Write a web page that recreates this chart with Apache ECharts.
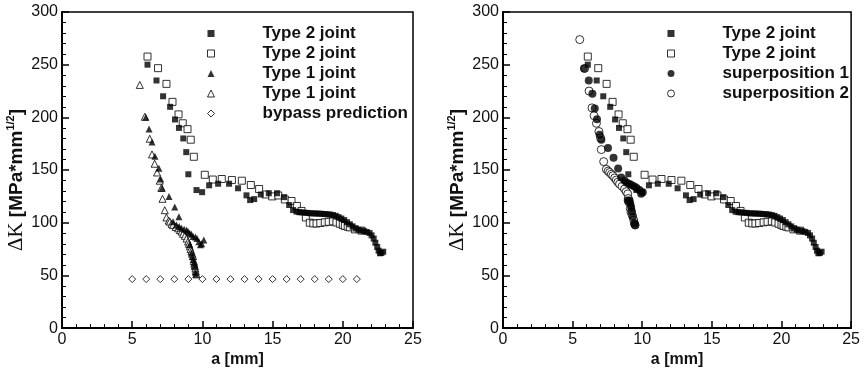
<!DOCTYPE html>
<html><head><meta charset="utf-8">
<script src="https://cdn.jsdelivr.net/npm/echarts/dist/echarts.min.js"></script>
<style>html,body{margin:0;padding:0;background:#fff}#c{width:863px;height:373px}</style>
</head><body><div id="c"></div>
<script>
// ---- data (x = a [mm], y = ΔK) ----
const type2Filled = [[6.09,250],[6.73,235],[7.20,220],[7.70,210],[8.05,198],[8.33,190],[8.64,180],[8.85,167],[9.0,146],[9.58,131],[9.98,129],[10.48,135.5],[11.12,137],[11.9,137],[12.54,132.7],[13.14,126],[13.4,121.5],[13.69,122.4],[14.16,126.8],[14.73,128],[15.32,128],[15.82,124.3],[16.18,116.8],[16.46,112],[16.7,110.5],[16.9,110],[17.1,109.8],[17.3,109.5],[17.5,109.3],[17.7,109],[17.9,108.8],[18.1,108.8],[18.3,108.6],[18.5,108.5],[18.7,108.3],[18.9,108],[19.1,107.8],[19.3,107.3],[19.5,106.5],[19.7,105.3],[19.9,104],[20.1,102.5],[20.3,100.5],[20.5,98.5],[20.7,96.5],[20.9,94.5],[21.1,93.3],[21.3,92.6],[21.5,92],[21.7,91.3],[21.9,90.3],[22.05,88],[22.2,85],[22.32,81],[22.45,77],[22.55,73.5],[22.65,71],[22.75,71.3],[22.88,72.5]];
const type2Open = [[6.09,257.7],[6.84,246.7],[7.44,231.8],[7.87,214.7],[8.3,202.8],[8.6,194.4],[8.94,188.8],[9.17,178.8],[9.39,162.6],[10.17,145.5],[10.74,141],[11.38,141.5],[12.1,140.5],[12.81,139.9],[13.45,135.8],[14.04,132],[14.5,126.8],[14.97,125],[15.4,125.9],[15.87,122.1],[16.35,120.6],[16.73,115.9],[17.06,111.2],[17.37,105],[17.65,100],[17.9,99.3],[18.13,99.3],[18.4,99.8],[18.72,100.4],[19.0,100.9],[19.31,101.3],[19.55,100.2],[19.79,99.0],[20.0,97.8],[20.15,96.9],[20.35,96.2],[20.5,95.6],[20.86,93.7],[21.34,92.5]];
const type1Filled = [[5.97,200],[6.2,189],[6.41,176.6],[6.62,163],[6.9,151.7],[7.03,141.4],[7.13,133],[7.62,125],[8.03,115],[8.33,105.6],[7.91,101],[8.15,97.8],[8.35,96.5],[8.51,94.7],[8.7,93.8],[8.87,93.2],[8.98,91.6],[9.1,90],[9.22,89],[9.34,87],[9.5,86.5],[9.62,85],[9.75,82],[9.86,79],[9.95,80],[10.1,83.5],[9.1,79],[9.22,71.3],[9.29,68],[9.34,65],[9.41,62],[9.46,58.9],[9.51,53],[9.53,51]];
const type1Open = [[5.54,230.8],[5.9,200.6],[6.25,179.7],[6.41,164.8],[6.6,156],[6.77,147.7],[6.96,139.9],[7.08,133],[7.16,122.7],[7.32,111.9],[7.44,105],[7.6,102],[7.68,101],[7.8,99],[7.91,97.8],[8.1,96],[8.27,94.7],[8.4,93],[8.51,91.6],[8.62,89.5],[8.75,87.6],[8.87,85],[8.98,82.2],[9.04,80],[9.1,77.6],[9.16,75],[9.22,72.9],[9.28,70.5],[9.34,68.2],[9.39,63.6],[9.43,61],[9.46,58.9],[9.5,56.5],[9.53,54.2],[9.58,51]];
const bypassX = [5,6,7,8,9,10,11,12,13,14,15,16,17,18,19,20,21];
const bypassY = [46.5,46.5,46.5,46.5,46.5,46.5,46.5,46.5,46.5,46.5,46.5,46.5,46.5,46.5,46.5,46.5,46.5];
const superpos1 = [[5.82,246.4],[6.16,234.9],[6.42,222.4],[6.59,208.4],[6.75,198.1],[6.94,183.5],[7.06,178.8],[7.54,171],[7.94,161.7],[8.27,151.5],[8.49,143],[8.73,139.9],[8.9,138],[9.09,136.7],[9.25,135.5],[9.44,134.3],[9.6,133],[9.8,131.1],[10.04,129],[9.92,127.4],[8.96,121],[9.09,121.2],[9.14,118],[9.2,115],[9.25,111],[9.32,105.6],[9.44,99.3],[9.49,97.8]];
const superpos2 = [[5.51,273.8],[5.87,246.4],[6.18,225],[6.39,209],[6.54,201.6],[6.71,194.4],[6.89,186.6],[7.01,180.4],[7.06,169.4],[7.23,158],[7.42,150.7],[7.55,149],[7.66,147.7],[7.78,146],[7.89,144.6],[8.02,142.5],[8.14,140.5],[8.25,138.5],[8.37,136.7],[8.55,134.5],[8.73,132],[8.85,129.5],[8.96,127.4],[9.0,123],[9.04,119.6],[9.14,113.4],[9.2,110],[9.28,107.2],[9.39,102.5],[9.44,99.3],[9.49,97.8]];
const xTickLabels = ['0','5','10','15','20','25'];
const yTickLabels = ['0','50','100','150','200','250','300'];
const legendLeft = ['Type 2 joint','Type 2 joint','Type 1 joint','Type 1 joint','bypass prediction'];
const legendRight = ['Type 2 joint','Type 2 joint','superposition 1','superposition 2'];

const FONT = 'Liberation Sans';
const bypass = bypassX.map((x,i)=>[x,bypassY[i]]);

function xAx(gi){return {type:'value',gridIndex:gi,min:0,max:25,interval:5,
  axisLine:{onZero:false,lineStyle:{color:'#000',width:2}},
  axisTick:{inside:true,length:7,lineStyle:{color:'#000',width:1.5}},
  minorTick:{show:true,splitNumber:5,length:4,lineStyle:{color:'#000',width:1}},
  splitLine:{show:false},
  axisLabel:{color:'#111',fontSize:16,fontFamily:FONT,margin:3,formatter:v=>xTickLabels[Math.round(v/5)]},
  name:'a [mm]',nameLocation:'middle',nameGap:23,
  nameTextStyle:{fontWeight:'bold',fontSize:16,color:'#111',fontFamily:FONT}};}
function yAx(gi){return {type:'value',gridIndex:gi,min:0,max:300,interval:50,
  axisLine:{onZero:false,lineStyle:{color:'#000',width:2}},
  axisTick:{inside:true,length:7,lineStyle:{color:'#000',width:1.5}},
  minorTick:{show:true,splitNumber:5,length:4,lineStyle:{color:'#000',width:1}},
  splitLine:{show:false},
  axisLabel:{color:'#111',fontSize:16,fontFamily:FONT,margin:4,formatter:v=>yTickLabels[Math.round(v/50)]},
  name:'{d|ΔK} {b|[MPa*mm}{s|1/2}{b|]}',nameLocation:'middle',nameGap:30,nameRotate:90,
  nameTextStyle:{color:'#111',fontSize:19,padding:[0,20,0,0],
    rich:{d:{fontFamily:'Liberation Serif',fontSize:21,color:'#111',lineHeight:22},
          b:{fontFamily:FONT,fontWeight:'bold',fontSize:19,color:'#111',lineHeight:22},
          s:{fontFamily:FONT,fontWeight:'bold',fontSize:11,color:'#111',verticalAlign:'top',lineHeight:22}}}};}

const filledSq = {color:'#000'};
const openSt = {color:'#fff',borderColor:'#000',borderWidth:1};
const labelMap = {
  L_t2f:legendLeft[0],L_t2o:legendLeft[1],L_t1f:legendLeft[2],L_t1o:legendLeft[3],L_bp:legendLeft[4],
  R_t2f:legendRight[0],R_t2o:legendRight[1],R_s1:legendRight[2],R_s2:legendRight[3]};

function sc(name,gi,data,symbol,size,style,z){
  return {name,type:'scatter',xAxisIndex:gi,yAxisIndex:gi,data,symbol,symbolSize:size,
    itemStyle:style,z:z||2,silent:true,animation:false};
}
const legendText = {fontFamily:FONT,fontWeight:'bold',fontSize:17,color:'#111',lineHeight:17,padding:[0,0,0,43]};

const option = {
  backgroundColor:'#fff',
  animation:false,
  grid:[
    {left:62,right:450,top:12,bottom:40,show:true,borderColor:'#000',borderWidth:1.5,backgroundColor:'transparent'},
    {left:503,right:11,top:12,bottom:40,show:true,borderColor:'#000',borderWidth:1.5,backgroundColor:'transparent'}
  ],
  xAxis:[xAx(0),xAx(1)],
  yAxis:[yAx(0),yAx(1)],
  legend:[
    {orient:'vertical',left:202,top:20,itemWidth:7,itemHeight:7,itemGap:3,selectedMode:false,
     textStyle:legendText,formatter:n=>labelMap[n],
     data:[{name:'L_t2f',icon:'rect',itemStyle:filledSq},{name:'L_t2o',icon:'rect',itemStyle:openSt},
           {name:'L_t1f',icon:'triangle',itemStyle:filledSq},{name:'L_t1o',icon:'triangle',itemStyle:openSt},
           {name:'L_bp',icon:'diamond',itemStyle:openSt}]},
    {orient:'vertical',left:662,top:20,itemWidth:7,itemHeight:7,itemGap:3,selectedMode:false,
     textStyle:legendText,formatter:n=>labelMap[n],
     data:[{name:'R_t2f',icon:'rect',itemStyle:filledSq},{name:'R_t2o',icon:'rect',itemStyle:openSt},
           {name:'R_s1',icon:'circle',itemStyle:filledSq},{name:'R_s2',icon:'circle',itemStyle:openSt}]}
  ],
  series:[
    sc('L_t2f',0,type2Filled,'rect',6,filledSq,3),
    sc('L_t2o',0,type2Open,'rect',7,openSt,2),
    sc('L_t1f',0,type1Filled,'triangle',7,filledSq,3),
    sc('L_t1o',0,type1Open,'triangle',7,openSt,2),
    sc('L_bp',0,bypass,'diamond',7,openSt,2),
    sc('R_t2f',1,type2Filled,'rect',6,filledSq,3),
    sc('R_t2o',1,type2Open,'rect',7,openSt,2),
    sc('R_s1',1,superpos1,'circle',8,filledSq,3),
    sc('R_s2',1,superpos2,'circle',8,openSt,2)
  ]
};
const chart = echarts.init(document.getElementById('c'),null,{renderer:'canvas'});
chart.setOption(option);
</script></body></html>
